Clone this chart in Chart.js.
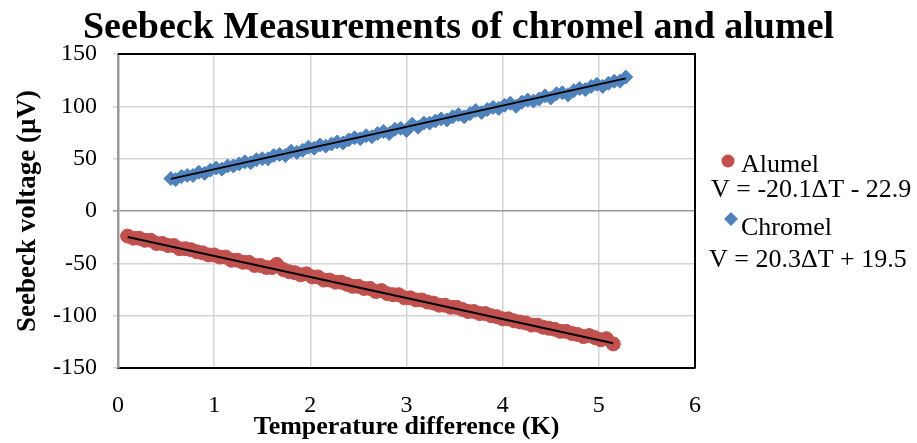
<!DOCTYPE html>
<html>
<head>
<meta charset="utf-8">
<script src="https://cdn.jsdelivr.net/npm/chart.js@4.4.1/dist/chart.umd.min.js"></script>
<style>
  html, body { margin: 0; padding: 0; background: #fff; }
  #wrap { width: 917px; height: 443px; position: relative; }
</style>
</head>
<body>
<div id="wrap"><canvas id="chart"></canvas></div>
<script>
const chartTitle = "Seebeck Measurements of chromel and alumel";
const xTitle = "Temperature difference (K)";
const yTitle = "Seebeck voltage (\u00b5V)";

const alumelX = [0.10, 0.16, 0.22, 0.28, 0.34, 0.40, 0.46, 0.52, 0.58, 0.64, 0.70, 0.76, 0.82, 0.88, 0.94,
    1.00, 1.06, 1.12, 1.18, 1.24, 1.30, 1.36, 1.42, 1.48, 1.54, 1.60, 1.65, 1.72, 1.78, 1.84, 1.90, 1.96,
    2.02, 2.08, 2.14, 2.20, 2.26, 2.32, 2.38, 2.44, 2.50, 2.56, 2.62, 2.68, 2.74, 2.80, 2.86, 2.92, 2.98,
    3.04, 3.10, 3.16, 3.22, 3.28, 3.34, 3.40, 3.46, 3.52, 3.58, 3.64, 3.70, 3.76, 3.82, 3.88, 3.94, 4.00,
    4.06, 4.12, 4.18, 4.24, 4.30, 4.36, 4.42, 4.48, 4.54, 4.60, 4.66, 4.72, 4.78, 4.84, 4.90, 4.96, 5.02,
    5.08, 5.15];
const alumelY = [-24, -26, -26, -28, -28, -31, -31, -33, -33, -36, -36, -37, -39, -40, -42,
    -42, -44, -44, -47, -47, -49, -49, -52, -52, -54, -54, -51, -56, -58, -59, -61, -60,
    -63, -63, -66, -66, -68, -68, -70, -72, -72, -74, -74, -77, -76, -79, -80, -80, -83,
    -83, -85, -85, -87, -88, -90, -90, -92, -92, -94, -96, -96, -98, -98, -100, -101, -103,
    -103, -105, -106, -107, -109, -109, -111, -112, -113, -115, -115, -117, -118, -120, -119, -121, -123,
    -122, -127];

const chromelX = [0.55, 0.60, 0.66, 0.72, 0.78, 0.84, 0.90, 0.96, 1.02, 1.08, 1.14, 1.20, 1.26, 1.32, 1.38,
    1.44, 1.50, 1.56, 1.62, 1.68, 1.74, 1.80, 1.86, 1.92, 1.98, 2.04, 2.10, 2.16, 2.22, 2.28, 2.34, 2.40,
    2.46, 2.52, 2.58, 2.64, 2.70, 2.76, 2.82, 2.88, 2.94, 3.00, 3.06, 3.12, 3.18, 3.24, 3.30, 3.36, 3.42,
    3.48, 3.54, 3.60, 3.66, 3.72, 3.78, 3.84, 3.90, 3.96, 4.02, 4.08, 4.14, 4.20, 4.26, 4.32, 4.38, 4.44,
    4.50, 4.56, 4.62, 4.68, 4.74, 4.80, 4.86, 4.92, 4.98, 5.04, 5.10, 5.16, 5.22, 5.28];
const chromelY = [31, 30, 33, 34, 34, 37, 36, 39, 41, 40, 43, 43, 45, 47, 46,
    49, 50, 50, 53, 54, 53, 57, 56, 58, 61, 60, 63, 62, 64, 66, 65, 68,
    70, 69, 72, 71, 74, 76, 74, 78, 79, 77, 83, 80, 84, 84, 86, 88, 87,
    90, 92, 90, 93, 96, 94, 97, 99, 98, 101, 103, 100, 104, 106, 105, 107, 110,
    108, 112, 113, 111, 115, 117, 116, 119, 121, 119, 122, 124, 124, 128];

// fitted trend lines, end points
const alumelFitX = [0.10, 5.15];
const alumelFitY = [-24.9, -126.4];
const chromelFitX = [0.55, 5.28];
const chromelFitY = [30.7, 126.7];

const yTicks = [-150, -100, -50, 0, 50, 100, 150];
const xTicks = [0, 1, 2, 3, 4, 5, 6];

const alumelLabel = "Alumel";
const alumelEq = "V = -20.1\u0394T - 22.9";
const chromelLabel = "Chromel";
const chromelEq = "V = 20.3\u0394T + 19.5";

const RED = '#C0504D';
const BLUE = '#4F81BD';
const SERIF = "'Liberation Serif', 'Times New Roman', serif";

function pts(xs, ys) {
    return xs.map((x, i) => ({x: x, y: ys[i]}));
}

// frame + title + legend drawn on top of the chart
const extras = {
    id: 'extras',
    afterDraw(chart) {
        const ctx = chart.ctx;
        const a = chart.chartArea;
        ctx.save();
        ctx.strokeStyle = '#000';
        ctx.lineWidth = 2;
        ctx.beginPath();
        ctx.moveTo(a.left, a.top);
        ctx.lineTo(a.right, a.top);
        ctx.lineTo(a.right, a.bottom);
        ctx.stroke();

        ctx.fillStyle = '#000';
        ctx.textBaseline = 'alphabetic';
        ctx.textAlign = 'center';
        ctx.font = "bold 38px " + SERIF;
        ctx.fillText(chartTitle, chart.width / 2, 38);

        ctx.textAlign = 'left';
        ctx.font = "26px " + SERIF;
        ctx.fillStyle = RED;
        ctx.beginPath();
        ctx.arc(728, 161, 6.5, 0, Math.PI * 2);
        ctx.fill();
        ctx.fillStyle = BLUE;
        ctx.beginPath();
        ctx.moveTo(731, 212);
        ctx.lineTo(738, 219);
        ctx.lineTo(731, 226);
        ctx.lineTo(724, 219);
        ctx.closePath();
        ctx.fill();
        ctx.fillStyle = '#000';
        ctx.fillText(alumelLabel, 741, 172);
        ctx.fillText(alumelEq, 711, 197);
        ctx.fillText(chromelLabel, 741, 235);
        ctx.fillText(chromelEq, 709, 267);
        ctx.restore();
    }
};

new Chart(document.getElementById('chart'), {
    type: 'scatter',
    data: {
        datasets: [
            {
                type: 'line', data: pts(chromelFitX, chromelFitY), borderColor: '#000', borderWidth: 2,
                pointRadius: 0, fill: false
            },
            {
                type: 'line', data: pts(alumelFitX, alumelFitY), borderColor: '#000', borderWidth: 2,
                pointRadius: 0, fill: false
            },
            {
                label: alumelLabel, data: pts(alumelX, alumelY), pointStyle: 'circle', pointRadius: 7,
                backgroundColor: RED, borderColor: RED, borderWidth: 1
            },
            {
                label: chromelLabel, data: pts(chromelX, chromelY), pointStyle: 'rectRot', pointRadius: 7,
                backgroundColor: BLUE, borderColor: BLUE, borderWidth: 1
            }
        ]
    },
    options: {
        responsive: true,
        maintainAspectRatio: false,
        animation: false,
        layout: { padding: { top: 54, right: 222, left: 0, bottom: 0 } },
        plugins: {
            legend: { display: false },
            title: { display: false },
            tooltip: { enabled: false }
        },
        scales: {
            x: {
                type: 'linear', min: 0, max: 6,
                afterFit: s => { s.height = 75; },
                afterBuildTicks: s => { s.ticks = xTicks.map(v => ({value: v})); },
                ticks: { color: '#000', padding: 23, font: { family: SERIF, size: 24 } },
                grid: { color: '#d4d4d4', lineWidth: 1.5, tickLength: 0 },
                border: { color: '#000', width: 2 },
                title: {
                    display: true, text: xTitle, color: '#000', padding: { top: 0, bottom: 0 },
                    font: { family: SERIF, size: 26, weight: 'bold' }
                }
            },
            y: {
                type: 'linear', min: -150, max: 150,
                afterFit: s => { s.width = 118; },
                afterBuildTicks: s => { s.ticks = yTicks.map(v => ({value: v})); },
                ticks: { color: '#000', padding: 16, font: { family: SERIF, size: 24 } },
                grid: {
                    color: c => (c.tick && c.tick.value === 0) ? '#9a9a9a' : '#d4d4d4',
                    lineWidth: 1.5, tickLength: 5
                },
                border: { color: '#9a9a9a', width: 2.5 },
                title: {
                    display: true, text: yTitle, color: '#000', padding: { top: 12, bottom: 0 },
                    font: { family: SERIF, size: 27, weight: 'bold' }
                }
            }
        }
    },
    plugins: [extras]
});
</script>
</body>
</html>
